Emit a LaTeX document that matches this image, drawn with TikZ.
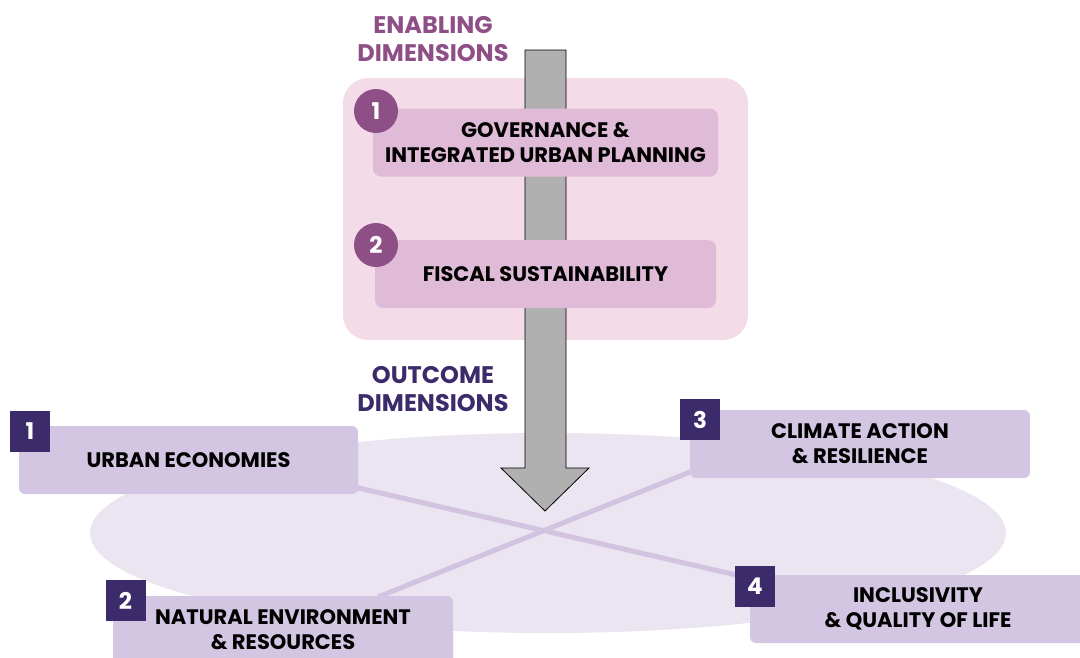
\documentclass[tikz,border=0pt]{standalone}
\usepackage{fontspec}
\setmainfont{Poppins}
\usetikzlibrary{shapes.geometric}
\definecolor{enab}{HTML}{8E4F87}
\definecolor{pinkbg}{HTML}{F3DCE8}
\definecolor{pinkbox}{HTML}{E0BBD7}
\definecolor{outc}{HTML}{3B2B6B}
\definecolor{lilbox}{HTML}{D3C6E2}
\definecolor{ellc}{HTML}{EBE4F1}
\definecolor{linkc}{HTML}{D2C4E1}
\definecolor{arrowg}{HTML}{B0B0B0}
\begin{document}
\begin{tikzpicture}[x=1pt,y=-1pt,
  ebox/.style={fill=pinkbox,rounded corners=8pt,minimum width=#1,minimum height=68pt,inner sep=0pt,align=center,font=\fontsize{21}{25}\selectfont\bfseries},
  obox/.style={fill=lilbox,rounded corners=6pt,minimum width=#1,minimum height=68pt,inner sep=0pt,align=center,font=\fontsize{21}{25}\selectfont\bfseries},
  ecirc/.style={circle,fill=enab,minimum size=44pt,inner sep=0pt,text=white,font=\fontsize{23}{23}\selectfont\bfseries},
  osq/.style={fill=outc,minimum width=40pt,minimum height=41pt,inner sep=0pt,text=white,font=\fontsize{23}{23}\selectfont\bfseries},
  head/.style={align=center,font=\fontsize{24}{28}\selectfont\bfseries},
  link/.style={draw=linkc,line width=5pt}
]
\clip (0,0) rectangle (1080,657);
\fill[white] (0,0) rectangle (1080,657);
% outcome ellipse
\node[ellipse,fill=ellc,minimum width=916pt,minimum height=200pt,inner sep=0pt] (ell) at (548,533) {};
% enabling background
\node[fill=pinkbg,rounded corners=25pt,minimum width=405pt,minimum height=262pt,inner sep=0pt] (pbg) at (545.5,209) {};
% big arrow
\draw[fill=arrowg,draw=black,line width=0.8pt] (525,50) -- (566,50) -- (566,468) -- (589,468) -- (545,511) -- (501,468) -- (525,468) -- cycle;
% heads
\node[head,text=enab] (enh) at (433,39) {ENABLING\\DIMENSIONS};
\node[head,text=outc] (outh) at (433,389) {OUTCOME\\DIMENSIONS};
% enabling boxes
\node[ebox=345pt] (gov) at (545.5,142.5) {GOVERNANCE \&\\INTEGRATED URBAN PLANNING};
\node[ecirc] (c1) at (376,111) {1};
\node[ebox=341pt] (fis) at (545.5,274) {FISCAL SUSTAINABILITY};
\node[ecirc] (c2) at (376,245) {2};
% links
\coordinate (l1a) at (350,486);
\coordinate (l1b) at (745,577);
\coordinate (l2a) at (695,470);
\coordinate (l2b) at (378,597);
\draw[link] (l1a) -- (l1b);
\draw[link] (l2a) -- (l2b);
% outcome boxes
\node[obox=339pt] (ue) at (188.5,460) {URBAN ECONOMIES};
\node[osq] (s1) at (30,431.5) {1};
\node[obox=340pt] (nat) at (283,630) {NATURAL ENVIRONMENT\\\& RESOURCES};
\node[osq] (s2) at (125.5,600.5) {2};
\node[obox=340pt] (cli) at (860,444) {CLIMATE ACTION\\\& RESILIENCE};
\node[osq] (s3) at (700,419.5) {3};
\node[obox=336pt] (inc) at (918,609) {INCLUSIVITY\\\& QUALITY OF LIFE};
\node[osq] (s4) at (755,586.5) {4};
\end{tikzpicture}
\end{document}
